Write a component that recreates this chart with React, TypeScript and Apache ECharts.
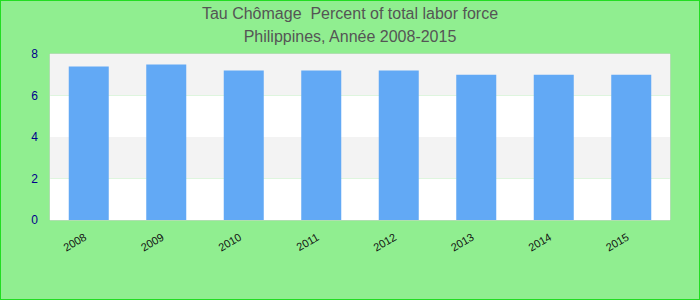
import React, { useEffect, useRef } from "react";
import * as echarts from "echarts";

const categories = ["2008", "2009", "2010", "2011", "2012", "2013", "2014", "2015"];
const values = [7.4, 7.5, 7.2, 7.2, 7.2, 7.0, 7.0, 7.0];
const yTicks = [0, 2, 4, 6, 8];

export default function App() {
  const ref = useRef<HTMLDivElement>(null);
  useEffect(() => {
    document.body.style.margin = "0";
    const chart = echarts.init(ref.current!, null, { renderer: "svg" });
    chart.setOption({
      animation: false,
      backgroundColor: "transparent",
      title: {
        text: "Tau Chômage  Percent of total labor force\nPhilippines, Année 2008-2015",
        left: "center",
        top: -3,
        textStyle: {
          fontFamily: "Liberation Sans, Arial, sans-serif",
          fontSize: 16,
          fontWeight: "normal",
          color: "#555555",
          lineHeight: 23,
        },
      },
      grid: {
        left: 50,
        top: 54,
        width: 620,
        height: 166,
        show: true,
        borderColor: "#d0d0d0",
        borderWidth: 1,
        backgroundColor: "transparent",
      },
      xAxis: {
        type: "category",
        data: categories,
        axisLine: { show: false },
        axisTick: { show: false },
        axisLabel: {
          rotate: 30,
          color: "#111111",
          fontSize: 11,
          margin: 14,
          padding: [0, 4, 0, 0],
          fontFamily: "Liberation Sans, Arial, sans-serif",
        },
      },
      yAxis: {
        type: "value",
        min: yTicks[0],
        max: yTicks[yTicks.length - 1],
        interval: 2,
        axisLine: { show: false },
        axisTick: { show: false },
        splitLine: { show: false },
        splitArea: { show: true, areaStyle: { color: ["#ffffff", "#f3f3f3"] } },
        axisLabel: {
          color: "#00008b",
          fontSize: 12,
          margin: 12,
          fontFamily: "Liberation Sans, Arial, sans-serif",
        },
      },
      series: [
        {
          type: "bar",
          data: values,
          barWidth: 40,
          itemStyle: { color: "#62a9f5" },
        },
      ],
    });
    return () => chart.dispose();
  }, []);
  return (
    <div
      style={{
        width: 700,
        height: 300,
        boxSizing: "border-box",
        background: "#90ee90",
        border: "1px solid #22dd22",
        position: "relative",
      }}
    >
      <div ref={ref} style={{ position: "absolute", left: -1, top: -1, width: 700, height: 300 }} />
    </div>
  );
}
